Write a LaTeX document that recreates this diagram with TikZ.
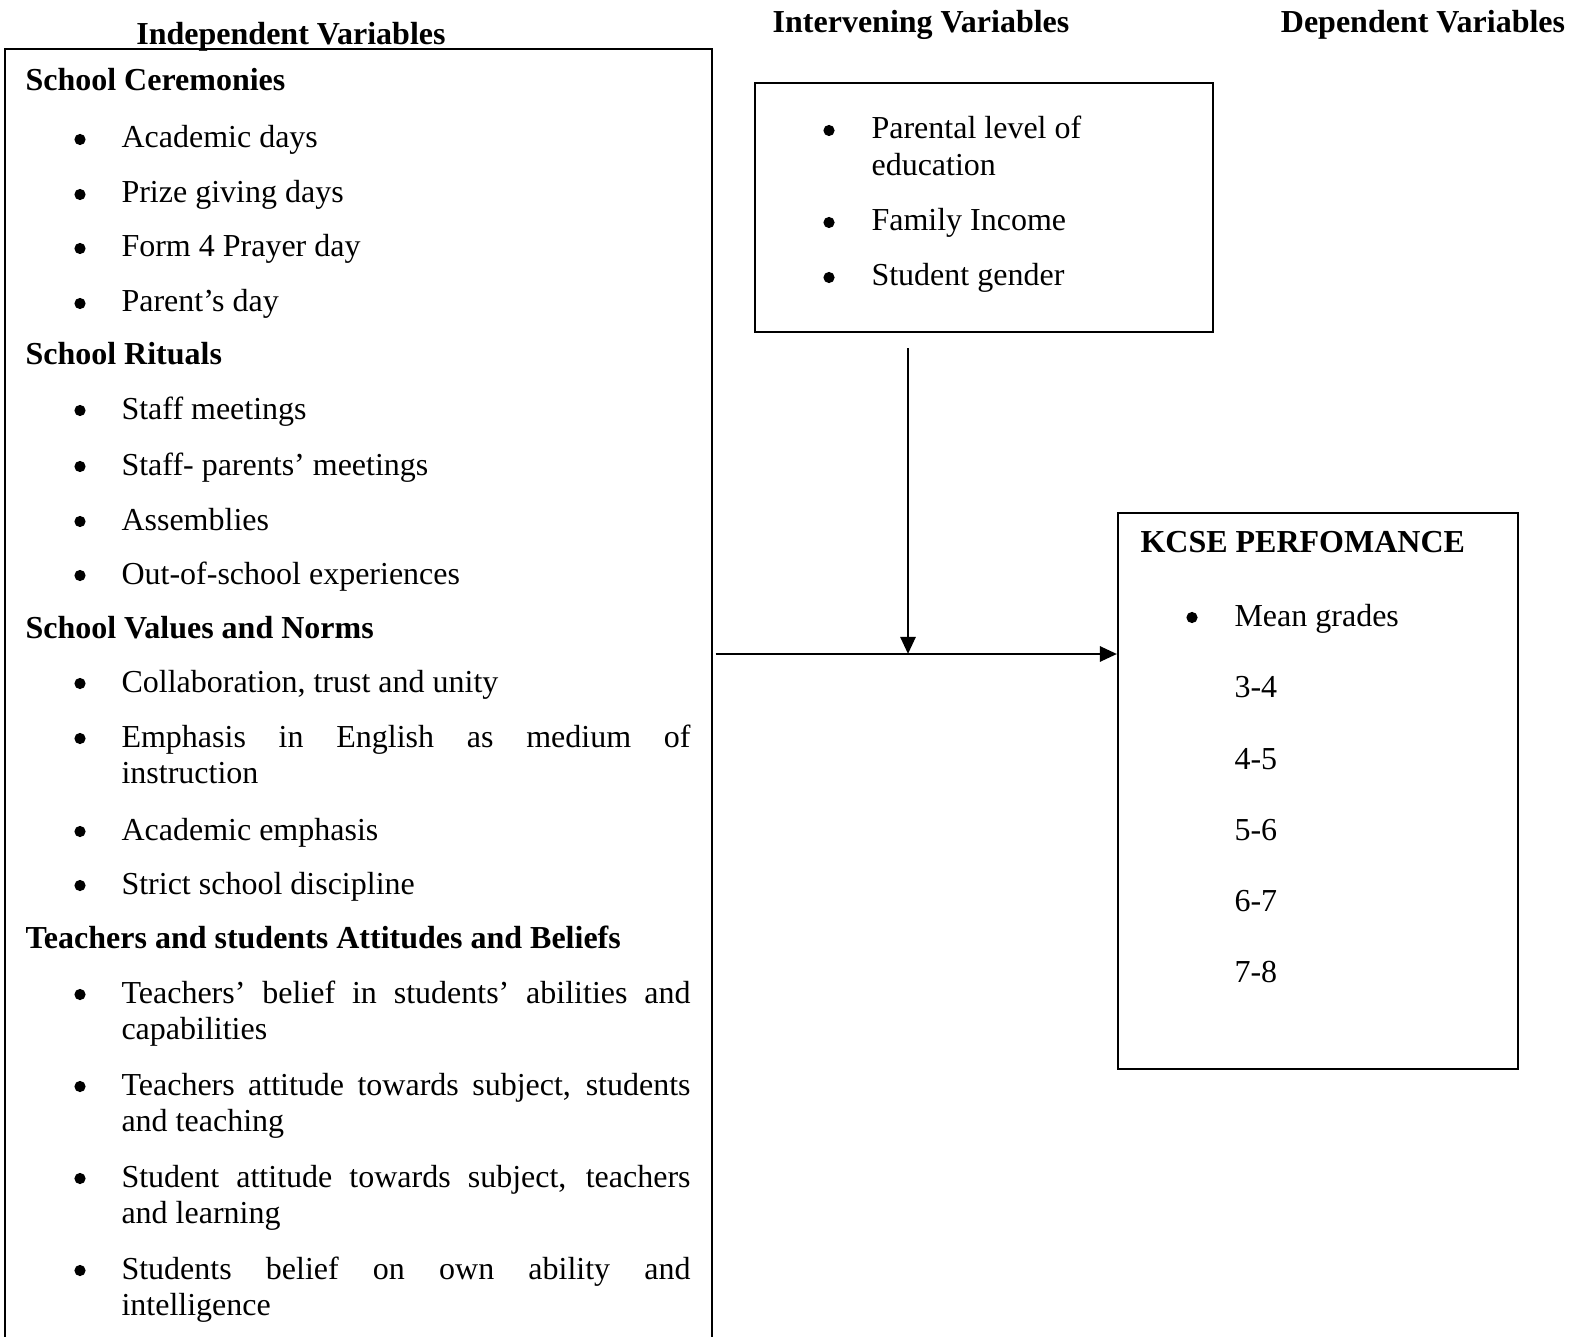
\documentclass[tikz,border=0pt]{standalone}
\usepackage{fontspec}
\setmainfont{Liberation Serif}
\usetikzlibrary{arrows.meta}

\newcommand{\jst}[1]{\makebox[213.4pt][s]{#1}}

\tikzset{
    txt/.style={anchor=base west, inner sep=0pt, font=\fontsize{12}{14}\selectfont},
    head/.style={txt, font=\fontsize{12}{14}\selectfont\bfseries},
    frame/.style={draw, line width=0.8pt, inner sep=0pt, anchor=north west},
    link/.style={-{Triangle[length=6.4pt, width=5.6pt]}, line width=1.1pt}
}

\begin{document}
\begin{tikzpicture}[x=0.375pt, y=-0.375pt]
        \useasboundingbox (0,0) rectangle (1573,1337);
        \clip (0,0) rectangle (1573,1337);

        % Column headings
        \node[head, anchor=base] (hind) at (291,45) {Independent Variables};
        \node[head, anchor=base] (hint) at (921,33) {Intervening Variables};
        \node[head, anchor=base] (hdep) at (1423,33) {Dependent Variables};

        % Boxes (the left one runs past the bottom edge)
        \node[frame, minimum width=265.1pt, minimum height=510pt] (indep) at (4,48) {};
        \node[frame, minimum width=171.8pt, minimum height=93.4pt] (inter) at (754,82) {};
        \node[frame, minimum width=150pt, minimum height=208.5pt] (kcse) at (1117,512) {};

        % Sub-headings of the left box
        \node[head] (cer) at (25,91) {School Ceremonies};
        \node[head] (rit) at (25,365) {School Rituals};
        \node[head] (val) at (25,638) {School Values and Norms};
        \node[head] (att) at (25,948) {Teachers and students Attitudes and Beliefs};

        % One-line items
        \foreach \y/\nm/\txt in {148/cer1/Academic days, 203/cer2/Prize giving days,
                257/cer3/Form 4 Prayer day, 312/cer4/Parent's day,
                419/rit1/Staff meetings, 475/rit2/Staff- parents' meetings,
                530/rit3/Assemblies, 584/rit4/Out-of-school experiences,
                692/val1/{Collaboration, trust and unity}, 840/val3/Academic emphasis,
                894/val4/Strict school discipline} {
            \fill (80,\y-8.5) circle (2.1pt);
            \node[txt] (\nm) at (121,\y) {\txt};
        }

        % Two-line items (first line justified)
        \foreach \y/\nm/\one/\two in {747/val2/Emphasis in English as medium of/instruction,
                1003/att1/Teachers' belief in students' abilities and/capabilities,
                1095/att2/{Teachers attitude towards subject, students}/and teaching,
                1187/att3/{Student attitude towards subject, teachers}/and learning,
                1279/att4/Students belief on own ability and/intelligence} {
            \fill (80,\y-8.5) circle (2.1pt);
            \node[txt] (\nm) at (121,\y) {\jst{\one}};
            \node[txt] (\nm b) at (121,\y+36) {\two};
        }

        % Intervening items
        \foreach \y in {139, 231, 286} {
            \fill (829,\y-8.5) circle (2.1pt);
        }
        \node[txt] (par) at (871,139) {Parental level of};
        \node[txt] (parb) at (871,176) {education};
        \node[txt] (inc) at (871,231) {Family Income};
        \node[txt] (gen) at (871,286) {Student gender};

        % Dependent items
        \node[head] (perf) at (1140,552) {KCSE PERFOMANCE};
        \fill (1192,626-8.5) circle (2.1pt);
        \node[txt] (mean) at (1234,626) {Mean grades};
        \foreach \y/\nm/\txt in {697/g34/3-4, 769/g45/4-5, 840/g56/5-6, 911/g67/6-7, 982/g78/7-8} {
            \node[txt] (\nm) at (1234,\y) {\txt};
        }

        % Arrows
        \coordinate (meet) at (908,654);
        \draw[link, shorten <=1pt] (indep.east |- meet) -- (kcse.west |- meet);
        \draw[link, shorten <=5.6pt] (inter.south -| meet) -- (meet);
    \end{tikzpicture}
\end{document}
